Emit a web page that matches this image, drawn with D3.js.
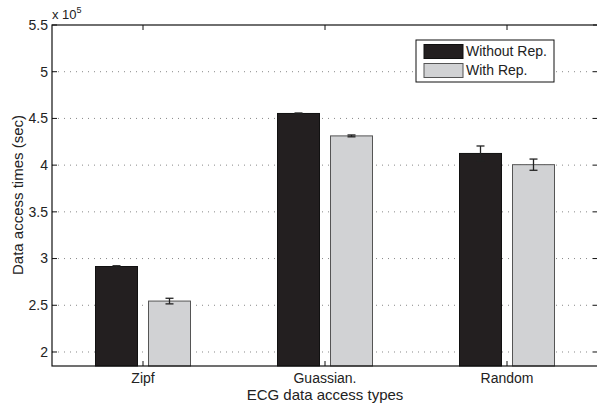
<!DOCTYPE html>
<html>
<head>
<meta charset="utf-8">
<script src="https://cdn.jsdelivr.net/npm/d3@7"></script>
<style>
  body { margin: 0; background: #fff; }
  text { font-family: "Liberation Sans", Arial, sans-serif; fill: #222; }
</style>
</head>
<body>
<div id="chart"></div>
<script>
// Data (values in units of 10^5 sec)
const categories = ["Zipf", "Guassian.", "Random"];
const series = ["Without Rep.", "With Rep."];
const withoutRep = [2.915, 4.553, 4.125];
const withRep = [2.545, 4.313, 4.005];
const withoutRepErr = [0.008, 0.005, 0.08];
const withRepErr = [0.03, 0.01, 0.06];
const yTicks = [2, 2.5, 3, 3.5, 4, 4.5, 5, 5.5];

const width = 597;
const height = 407;
const margin = { left: 52, top: 25, right: -1, bottom: 41 };

const svg = d3.select("#chart").append("svg")
    .attr("width", width)
    .attr("height", height);

const x = d3.scaleLinear()
    .domain([0.5, 3.5])
    .range([margin.left, width - margin.right]);

const y = d3.scaleLinear()
    .domain([1.85, 5.5])
    .range([height - margin.bottom, margin.top]);

const colors = ["#231f20", "#d1d2d4"];
const strokes = ["#111", "#555"];
const barW = 42;
const offsets = [-26.5, 26.5];

// dotted grid lines, drawn behind the bars
svg.append("g")
    .selectAll("line")
    .data(yTicks.filter(d => d < 5.5))
    .enter().append("line")
    .attr("x1", x(0.5))
    .attr("x2", x(3.5))
    .attr("y1", d => y(d))
    .attr("y2", d => y(d))
    .attr("stroke", "#888")
    .attr("stroke-width", 1)
    .attr("stroke-dasharray", "1,5");

// bars
const values = [withoutRep, withRep];
const errs = [withoutRepErr, withRepErr];
series.forEach((s, si) => {
    const g = svg.append("g");
    g.selectAll("rect")
        .data(values[si])
        .enter().append("rect")
        .attr("x", (d, i) => x(i + 1) + offsets[si] - barW / 2)
        .attr("width", barW)
        .attr("y", d => y(d))
        .attr("height", d => y(1.85) - y(d))
        .attr("fill", colors[si])
        .attr("stroke", strokes[si])
        .attr("stroke-width", 1);

    // error bars
    const e = g.selectAll(".err")
        .data(values[si])
        .enter().append("g")
        .attr("class", "err");
    const ex = (i) => x(i + 1) + offsets[si];
    e.append("line")
        .attr("x1", (d, i) => ex(i)).attr("x2", (d, i) => ex(i))
        .attr("y1", (d, i) => y(d + errs[si][i]))
        .attr("y2", (d, i) => y(d - errs[si][i]))
        .attr("stroke", "#222").attr("stroke-width", 1.3);
    [1, -1].forEach(sign => {
        e.append("line")
            .attr("x1", (d, i) => ex(i) - 4).attr("x2", (d, i) => ex(i) + 4)
            .attr("y1", (d, i) => y(d + sign * errs[si][i]))
            .attr("y2", (d, i) => y(d + sign * errs[si][i]))
            .attr("stroke", "#222").attr("stroke-width", 1.3);
    });
});

// axes box
const x0 = x(0.5), x1 = x(3.5), y0 = y(1.85), y1 = y(5.5);
svg.append("rect")
    .attr("x", x0).attr("y", y1)
    .attr("width", x1 - x0).attr("height", y0 - y1)
    .attr("fill", "none")
    .attr("stroke", "#111")
    .attr("stroke-width", 1.2);

// y ticks (inward, both sides) and labels
const yt = svg.append("g");
yTicks.forEach(t => {
    yt.append("line").attr("x1", x0).attr("x2", x0 + 5)
        .attr("y1", y(t)).attr("y2", y(t)).attr("stroke", "#111");
    yt.append("line").attr("x1", x1 - 5).attr("x2", x1)
        .attr("y1", y(t)).attr("y2", y(t)).attr("stroke", "#111");
    yt.append("text")
        .attr("x", x0 - 4)
        .attr("y", y(t))
        .attr("dy", "0.35em")
        .attr("text-anchor", "end")
        .style("font-size", "14px")
        .text(t);
});

// x ticks and labels
const xt = svg.append("g");
categories.forEach((c, i) => {
    xt.append("line").attr("x1", x(i + 1)).attr("x2", x(i + 1))
        .attr("y1", y0).attr("y2", y0 - 5).attr("stroke", "#111");
    xt.append("line").attr("x1", x(i + 1)).attr("x2", x(i + 1))
        .attr("y1", y1).attr("y2", y1 + 5).attr("stroke", "#111");
    xt.append("text")
        .attr("x", x(i + 1))
        .attr("y", 383)
        .attr("text-anchor", "middle")
        .style("font-size", "14px")
        .text(c);
});

// exponent label
const ex = svg.append("text")
    .attr("x", 52)
    .attr("y", 18.5)
    .style("font-size", "13px")
    .text("x 10");
ex.append("tspan")
    .attr("dy", -6)
    .style("font-size", "9px")
    .text("5");

// axis titles
svg.append("text")
    .attr("x", 325)
    .attr("y", 400)
    .attr("text-anchor", "middle")
    .style("font-size", "15px")
    .text("ECG data access types");

svg.append("text")
    .attr("transform", "translate(23,195) rotate(-90)")
    .attr("text-anchor", "middle")
    .style("font-size", "15px")
    .text("Data access times (sec)");

// legend
const lg = svg.append("g");
lg.append("rect")
    .attr("x", 416).attr("y", 40)
    .attr("width", 138).attr("height", 42)
    .attr("fill", "#fff")
    .attr("stroke", "#111")
    .attr("stroke-width", 1);
series.forEach((s, si) => {
    lg.append("rect")
        .attr("x", 424).attr("y", 44.5 + si * 19)
        .attr("width", 39).attr("height", 14)
        .attr("fill", colors[si])
        .attr("stroke", strokes[si]);
    lg.append("text")
        .attr("x", 466).attr("y", 51.5 + si * 19)
        .attr("dy", "0.35em")
        .style("font-size", "14px")
        .text(s);
});
</script>
</body>
</html>
